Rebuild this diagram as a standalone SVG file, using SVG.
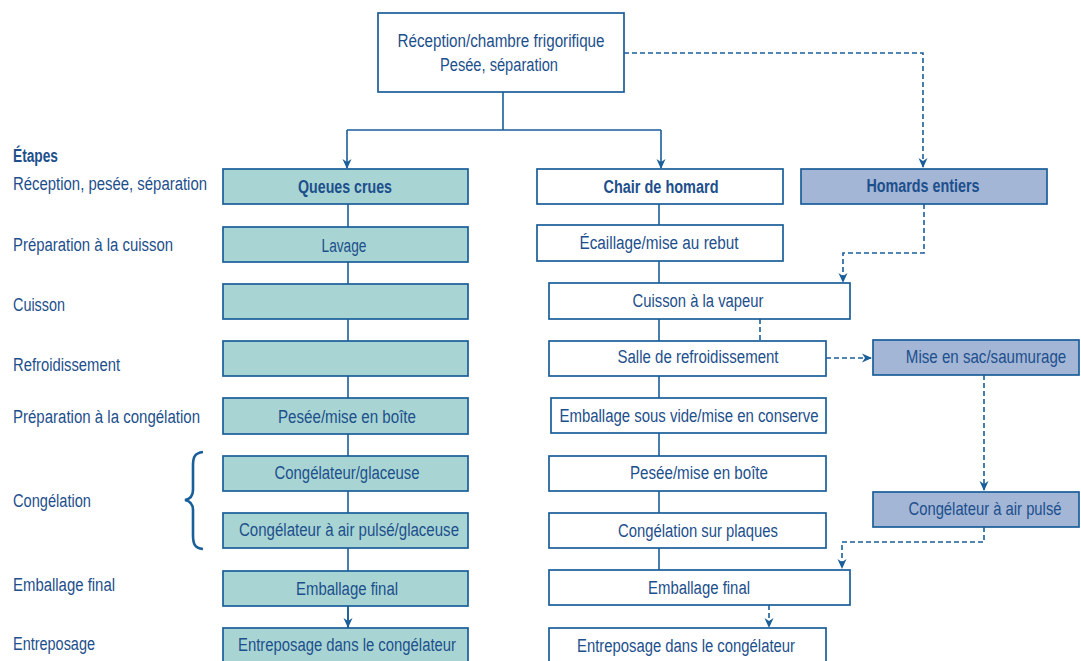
<svg xmlns="http://www.w3.org/2000/svg" width="1081" height="661" viewBox="0 0 1081 661">
<style>
text{font-family:"Liberation Sans",Arial,sans-serif;font-size:18px;fill:#1d4f8c}
.c{text-anchor:middle}
.b{font-weight:bold}
.w{fill:#ffffff;stroke:#1a5e9a;stroke-width:1.7}
.t{fill:#a8d5d3;stroke:#1a5e9a;stroke-width:1.7}
.p{fill:#a3b6d6;stroke:#1a5e9a;stroke-width:1.7}
.s{fill:none;stroke:#1a5e9a;stroke-width:1.6}
.d{fill:none;stroke:#1a5e9a;stroke-width:1.6;stroke-dasharray:5,3}
</style>
<defs>
<marker id="ah" viewBox="0 0 10 10" refX="9" refY="5" markerWidth="10" markerHeight="10" markerUnits="userSpaceOnUse" orient="auto">
<path d="M0,0.5 L10,5 L0,9.5 L3,5 Z" fill="#1a5e9a"/>
</marker>
</defs>
<rect width="1081" height="661" fill="#ffffff"/>

<g id="connectors">
<path class="s" d="M503,92 V130 M347,130 H661"/>
<path class="s" d="M347,130 V168" marker-end="url(#ah)"/>
<path class="s" d="M661,130 V168" marker-end="url(#ah)"/>
<path class="d" d="M624,53 H923 V167" marker-end="url(#ah)"/>
<path class="s" d="M348,204 V628"/>
<path class="s" d="M348,606 V627" marker-end="url(#ah)"/>
<path class="s" d="M659,204 V570"/>
<path class="d" d="M924,204 V253 H843 V282" marker-end="url(#ah)"/>
<path class="d" d="M760,319 V341"/>
<path class="d" d="M826,358 H871" marker-end="url(#ah)"/>
<path class="d" d="M984,375 V490" marker-end="url(#ah)"/>
<path class="d" d="M984,527 V542 H842 V568" marker-end="url(#ah)"/>
<path class="d" d="M769,605 V627" marker-end="url(#ah)"/>
</g>

<g id="labels">
<text x="13" y="162" class="b" textLength="45" lengthAdjust="spacingAndGlyphs">Étapes</text>
<text x="13" y="190" textLength="194" lengthAdjust="spacingAndGlyphs">Réception, pesée, séparation</text>
<text x="13" y="251" textLength="160" lengthAdjust="spacingAndGlyphs">Préparation à la cuisson</text>
<text x="13" y="311" textLength="52" lengthAdjust="spacingAndGlyphs">Cuisson</text>
<text x="13" y="371" textLength="107" lengthAdjust="spacingAndGlyphs">Refroidissement</text>
<text x="13" y="423" textLength="187" lengthAdjust="spacingAndGlyphs">Préparation à la congélation</text>
<text x="13" y="507" textLength="78" lengthAdjust="spacingAndGlyphs">Congélation</text>
<text x="13" y="591" textLength="102" lengthAdjust="spacingAndGlyphs">Emballage final</text>
<text x="13" y="650" textLength="82" lengthAdjust="spacingAndGlyphs">Entreposage</text>
<path d="M203,452 C194,453 193,458 193,466 L193,490 C193,496 190,499 185,500 C190,501 193,504 193,510 L193,535 C193,543 194,548 203,549" fill="none" stroke="#1a5e9a" stroke-width="2.6"/>
</g>

<g id="n-top"><rect class="w" x="378" y="13" width="246" height="79"/>
<text class="c" x="501" y="47" textLength="207" lengthAdjust="spacingAndGlyphs">Réception/chambre frigorifique</text>
<text class="c" x="499" y="71" textLength="118" lengthAdjust="spacingAndGlyphs">Pesée, séparation</text></g>

<g id="n-queues"><rect class="t" x="223" y="169" width="245" height="35"/><text class="c b" x="345" y="193" textLength="94" lengthAdjust="spacingAndGlyphs">Queues crues</text></g>
<g id="n-lavage"><rect class="t" x="223" y="227" width="245" height="35"/><text class="c" x="344" y="252" textLength="45" lengthAdjust="spacingAndGlyphs">Lavage</text></g>
<g id="n-cuisson-l"><rect class="t" x="223" y="284" width="245" height="35"/></g>
<g id="n-refr-l"><rect class="t" x="223" y="341" width="245" height="35"/></g>
<g id="n-pesee-l"><rect class="t" x="223" y="398" width="245" height="36"/><text class="c" x="347" y="423" textLength="138" lengthAdjust="spacingAndGlyphs">Pesée/mise en boîte</text></g>
<g id="n-cong-gl"><rect class="t" x="223" y="456" width="245" height="35"/><text class="c" x="347" y="479" textLength="145" lengthAdjust="spacingAndGlyphs">Congélateur/glaceuse</text></g>
<g id="n-cong-air-gl"><rect class="t" x="223" y="513" width="245" height="35"/><text class="c" x="349" y="536" textLength="220" lengthAdjust="spacingAndGlyphs">Congélateur à air pulsé/glaceuse</text></g>
<g id="n-emb-l"><rect class="t" x="223" y="571" width="245" height="35"/><text class="c" x="347" y="595" textLength="102" lengthAdjust="spacingAndGlyphs">Emballage final</text></g>
<g id="n-entr-l"><rect class="t" x="223" y="628" width="245" height="40"/><text class="c" x="347" y="651" textLength="218" lengthAdjust="spacingAndGlyphs">Entreposage dans le congélateur</text></g>

<g id="n-chair"><rect class="w" x="537" y="169" width="246" height="35"/><text class="c b" x="661" y="193" textLength="115" lengthAdjust="spacingAndGlyphs">Chair de homard</text></g>
<g id="n-ecaillage"><rect class="w" x="537" y="225" width="246" height="36"/><text class="c" x="659" y="249" textLength="159" lengthAdjust="spacingAndGlyphs">Écaillage/mise au rebut</text></g>
<g id="n-vapeur"><rect class="w" x="549" y="283" width="301" height="36"/><text class="c" x="698" y="307" textLength="131" lengthAdjust="spacingAndGlyphs">Cuisson à la vapeur</text></g>
<g id="n-salle"><rect class="w" x="549" y="341" width="277" height="35"/><text class="c" x="698" y="363" textLength="161" lengthAdjust="spacingAndGlyphs">Salle de refroidissement</text></g>
<g id="n-sousvide"><rect class="w" x="551" y="398" width="275" height="35"/><text class="c" x="689" y="422" textLength="259" lengthAdjust="spacingAndGlyphs">Emballage sous vide/mise en conserve</text></g>
<g id="n-pesee-m"><rect class="w" x="549" y="456" width="277" height="35"/><text class="c" x="699" y="479" textLength="138" lengthAdjust="spacingAndGlyphs">Pesée/mise en boîte</text></g>
<g id="n-plaques"><rect class="w" x="549" y="513" width="277" height="35"/><text class="c" x="698" y="537" textLength="160" lengthAdjust="spacingAndGlyphs">Congélation sur plaques</text></g>
<g id="n-emb-m"><rect class="w" x="549" y="570" width="301" height="35"/><text class="c" x="699" y="594" textLength="102" lengthAdjust="spacingAndGlyphs">Emballage final</text></g>
<g id="n-entr-m"><rect class="w" x="549" y="628" width="277" height="40"/><text class="c" x="686" y="652" textLength="218" lengthAdjust="spacingAndGlyphs">Entreposage dans le congélateur</text></g>

<g id="n-homards"><rect class="p" x="801" y="169" width="246" height="35"/><text class="c b" x="923" y="192" textLength="113" lengthAdjust="spacingAndGlyphs">Homards entiers</text></g>
<g id="n-sac"><rect class="p" x="873" y="340" width="206" height="35"/><text class="c" transform="translate(986,363) scale(0.84,1)" x="0" y="0">Mise en sac/saumurage</text></g>
<g id="n-air"><rect class="p" x="873" y="492" width="206" height="35"/><text class="c" transform="translate(985,515) scale(0.823,1)" x="0" y="0">Congélateur à air pulsé</text></g>
</svg>
